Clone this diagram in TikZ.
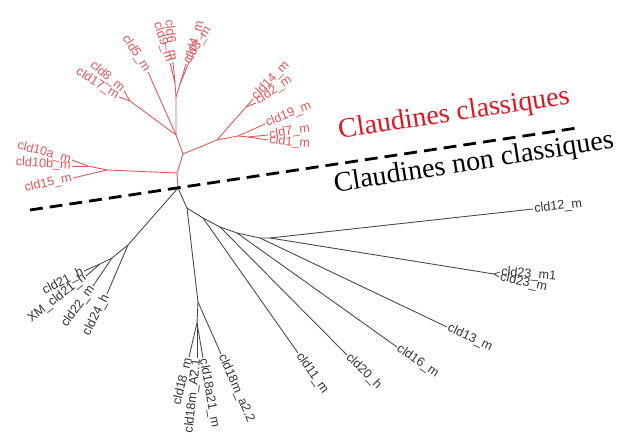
\documentclass[tikz,border=0pt]{standalone}
\usepackage{fontspec}
\setmainfont{Liberation Serif}
\newfontfamily\leaffont{Liberation Sans}
\definecolor{cladred}{RGB}{226,86,90}
\definecolor{titlered}{RGB}{222,22,34}
\definecolor{cladgray}{RGB}{72,72,72}
\tikzset{
  redbranch/.style={cladred, line width=0.75pt},
  graybranch/.style={cladgray, line width=0.75pt},
  redleaf/.style={text=cladred, font=\leaffont\fontsize{10.8}{12}\selectfont, inner sep=1pt},
  grayleaf/.style={text=black!80, font=\leaffont\fontsize{10.8}{12}\selectfont, inner sep=1pt},
  cladetitle/.style={anchor=base, font=\fontsize{24}{28}\selectfont}
}
\begin{document}
\begin{tikzpicture}[x=0.03cm, y=-0.03cm]
        \useasboundingbox (0,0) rectangle (618,447);

        % red part
        \coordinate (root) at (178,188);
        \coordinate (r1) at (177,173);
        \coordinate (r2) at (183,154);
        \coordinate (r4) at (176,135);
        \coordinate (r10) at (107,170);
        \coordinate (r10ab) at (88,166);
        \coordinate (t10a) at (72,160);
        \coordinate (t10b) at (72,166);
        \coordinate (t15) at (73,178);
        \coordinate (r3) at (217,140);
        \coordinate (r142) at (246,107);
        \coordinate (t14) at (253,99);
        \coordinate (t2) at (256,103);
        \coordinate (r19) at (238,136);
        \coordinate (t19) at (265,124);
        \coordinate (r71) at (248,137);
        \coordinate (t7) at (268,135);
        \coordinate (t1) at (268,140);
        \coordinate (r817) at (130,101);
        \coordinate (t8) at (124,91);
        \coordinate (t17) at (119,97);
        \coordinate (t5) at (148,72);
        \coordinate (r5) at (176,97);
        \coordinate (r69) at (175,83);
        \coordinate (t9) at (170,63);
        \coordinate (t6) at (173,62);
        \coordinate (r43) at (180,84);
        \coordinate (t4) at (189,62);
        \coordinate (t3) at (186,64);

        \draw[redbranch] (root) -- (r1) -- (r2) -- (r4);
        \draw[redbranch] (r1) -- (r10) -- (r10ab) -- (t10a);
        \draw[redbranch] (r10ab) -- (t10b);
        \draw[redbranch] (r10) -- (t15);
        \draw[redbranch] (r2) -- (r3) -- (r142) -- (t14);
        \draw[redbranch] (r142) -- (t2);
        \draw[redbranch] (r3) -- (r19) -- (t19);
        \draw[redbranch] (r19) -- (r71) -- (t7);
        \draw[redbranch] (r71) -- (t1);
        \draw[redbranch] (r4) -- (r817) -- (t8);
        \draw[redbranch] (r817) -- (t17);
        \draw[redbranch] (r4) -- (t5);
        \draw[redbranch] (r4) -- (r5) -- (r69) -- (t9);
        \draw[redbranch] (r69) -- (t6);
        \draw[redbranch] (r5) -- (r43) -- (t4);
        \draw[redbranch] (r43) -- (t3);

        \node[redleaf, anchor=east, rotate=-15] (l10a) at (t10a) {cld10a\_m};
        \node[redleaf, anchor=east, rotate=-4] (l10b) at (t10b) {cld10b\_m};
        \node[redleaf, anchor=east, rotate=12] (l15) at (t15) {cld15\_m};
        \node[redleaf, anchor=east, rotate=-40] (l8) at (t8) {cld8\_m};
        \node[redleaf, anchor=east, rotate=-32] (l17) at (t17) {cld17\_m};
        \node[redleaf, anchor=east, rotate=-57] (l5) at (t5) {cld5\_m};
        \node[redleaf, anchor=east, rotate=-72] (l9) at (t9) {cld9\_m};
        \node[redleaf, anchor=east, rotate=-84] (l6) at (t6) {cld6\_m};
        \node[redleaf, anchor=west, rotate=74] (l4) at (t4) {cld4\_m};
        \node[redleaf, anchor=west, rotate=58] (l3) at (t3) {cld3\_m};
        \node[redleaf, anchor=west, rotate=46] (l14) at (t14) {cld14\_m};
        \node[redleaf, anchor=west, rotate=35] (l2) at (t2) {cld2\_m};
        \node[redleaf, anchor=west, rotate=22] (l19) at (t19) {cld19\_m};
        \node[redleaf, anchor=west, rotate=8] (l7) at (t7) {cld7\_m};
        \node[redleaf, anchor=west, rotate=-6] (l1) at (t1) {cld1\_m};

        % grey part
        \coordinate (bl) at (128,245);
        \coordinate (bl2) at (112,258);
        \coordinate (bl3) at (100,264);
        \coordinate (t21) at (84,271);
        \coordinate (tXM) at (86,276);
        \coordinate (t22) at (93,286);
        \coordinate (t24) at (107,294);
        \coordinate (bA) at (187,208);
        \coordinate (b18) at (198,302);
        \coordinate (b18b) at (197,323);
        \coordinate (t18) at (189,357);
        \coordinate (tA21) at (197,358);
        \coordinate (ta21) at (203,358);
        \coordinate (ta22) at (221,354);
        \coordinate (bB) at (203,218);
        \coordinate (t11) at (298,353);
        \coordinate (bC) at (220,227);
        \coordinate (t20) at (347,355);
        \coordinate (bD) at (237,233);
        \coordinate (t16) at (397,347);
        \coordinate (bE) at (260,238);
        \coordinate (t13) at (447,327);
        \coordinate (bF) at (270,238);
        \coordinate (t12) at (533,209);
        \coordinate (b23) at (494,274);
        \coordinate (t23a) at (500,272);
        \coordinate (t23) at (499,277);

        \draw[graybranch] (root) -- (bl) -- (t24);
        \draw[graybranch] (bl) -- (bl2) -- (t22);
        \draw[graybranch] (bl2) -- (bl3) -- (t21);
        \draw[graybranch] (bl3) -- (tXM);
        \draw[graybranch] (root) -- (bA) -- (b18) -- (ta22);
        \draw[graybranch] (b18) -- (b18b) -- (t18);
        \draw[graybranch] (b18b) -- (tA21);
        \draw[graybranch] (b18b) -- (ta21);
        \draw[graybranch] (bA) -- (bB) -- (t11);
        \draw[graybranch] (bB) -- (bC) -- (t20);
        \draw[graybranch] (bC) -- (bD) -- (t16);
        \draw[graybranch] (bD) -- (bE) -- (t13);
        \draw[graybranch] (bE) -- (bF) -- (t12);
        \draw[graybranch] (bF) -- (b23) -- (t23a);
        \draw[graybranch] (b23) -- (t23);

        \node[grayleaf, anchor=east, rotate=27] (l21) at (t21) {cld21\_h};
        \node[grayleaf, anchor=east, rotate=38] (lXM) at (tXM) {XM\_cld21\_h};
        \node[grayleaf, anchor=east, rotate=54] (l22) at (t22) {cld22\_m};
        \node[grayleaf, anchor=east, rotate=63] (l24) at (t24) {cld24\_h};
        \node[grayleaf, anchor=east, rotate=76] (l18) at (t18) {cld18\_m};
        \node[grayleaf, anchor=east, rotate=84] (lA21) at (tA21) {cld18m\_A2.1};
        \node[grayleaf, anchor=west, rotate=-80] (la21) at (ta21) {cld18a21\_m};
        \node[grayleaf, anchor=west, rotate=-66] (la22) at (ta22) {cld18m\_a2.2};
        \node[grayleaf, anchor=west, rotate=-55] (l11) at (t11) {cld11\_m};
        \node[grayleaf, anchor=west, rotate=-45] (l20) at (t20) {cld20\_h};
        \node[grayleaf, anchor=west, rotate=-35] (l16) at (t16) {cld16\_m};
        \node[grayleaf, anchor=west, rotate=-25] (l13) at (t13) {cld13\_m};
        \node[grayleaf, anchor=west, rotate=6] (l12) at (t12) {cld12\_m};
        \node[grayleaf, anchor=west, rotate=-5] (l23a) at (t23a) {cld23\_m1};
        \node[grayleaf, anchor=west, rotate=-13] (l23) at (t23) {cld23\_m};

        % separation
        \coordinate (sepL) at (30,210);
        \coordinate (sepR) at (577,128);
        \draw[line width=2.4pt, dash pattern=on 11pt off 6pt] (sepL) -- (sepR);
        \node[cladetitle, text=titlered, rotate=8.5] (classic) at (455,121) {Claudines classiques};
        \node[cladetitle, rotate=9] (nonclassic) at (475,170) {Claudines non classiques};
\end{tikzpicture}
\end{document}
